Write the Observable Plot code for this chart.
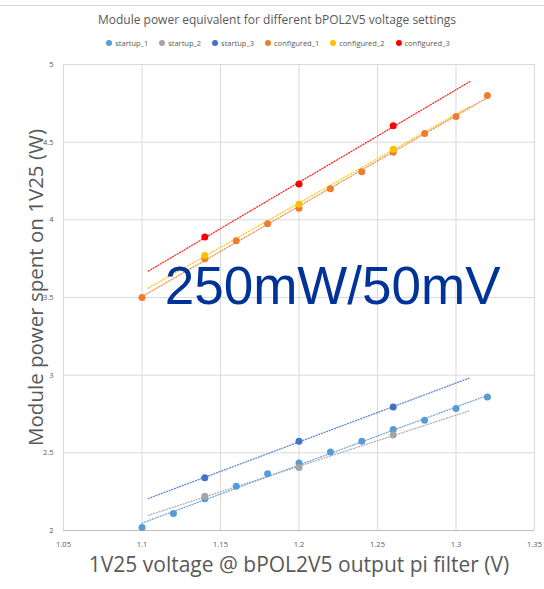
<!DOCTYPE html>
<html>
<head>
<meta charset="utf-8">
<script src="https://cdn.jsdelivr.net/npm/d3@7"></script>
<script src="https://cdn.jsdelivr.net/npm/@observablehq/plot@0.6"></script>
<style>
  html, body { margin: 0; padding: 0; background: #fff; }
  #wrap { width: 544px; height: 589px; position: relative; overflow: hidden; font-family: "Open Sans", "DejaVu Sans", sans-serif; }
  #topline { position: absolute; left: 0; top: 5px; width: 544px; height: 1px; background: #d9d9d9; }
  #title { height: 34px; box-sizing: border-box; padding-top: 11px; text-align: center; font-size: 12px; color: #595959; padding-left: 10px; }
  #legend { height: 18px; display: flex; justify-content: center; align-items: center; gap: 11px; font-size: 7.5px; color: #595959; padding-left: 12px; }
  .li { display: flex; align-items: center; gap: 3px; }
  .sw { width: 6px; height: 6px; border-radius: 50%; display: inline-block; }
  svg { display: block; }
</style>
</head>
<body>
<div id="wrap">
  <div id="topline"></div>
  <div id="title"></div>
  <div id="legend"></div>
  <div id="chart"></div>
</div>
<script>
const chartTitle = "Module power equivalent for different bPOL2V5 voltage settings";
const xLabel = "1V25 voltage @ bPOL2V5 output pi filter (V)";
const yLabel = "Module power spent on 1V25 (W)";
const annotation = "250mW/50mV";

const seriesNames = ["startup_1", "startup_2", "startup_3", "configured_1", "configured_2", "configured_3"];
const seriesColors = ["#5B9BD5", "#A5A5A5", "#4472C4", "#ED7D31", "#FFC000", "#FF0000"];

const xTicks = [1.05, 1.1, 1.15, 1.2, 1.25, 1.3, 1.35];
const yTicks = [2, 2.5, 3, 3.5, 4, 4.5, 5];

// full voltage sweep
const voltStartup1 = [1.10, 1.12, 1.14, 1.16, 1.18, 1.20, 1.22, 1.24, 1.26, 1.28, 1.30, 1.32];
const startup1 = [2.02, 2.11, 2.205, 2.285, 2.365, 2.435, 2.505, 2.575, 2.65, 2.71, 2.785, 2.86];
const voltConfigured1 = [1.10, 1.14, 1.16, 1.18, 1.20, 1.22, 1.24, 1.26, 1.28, 1.30, 1.32];
const configured1 = [3.50, 3.75, 3.865, 3.975, 4.075, 4.20, 4.31, 4.435, 4.555, 4.665, 4.80];

// sparse sweeps
const voltSparse = [1.14, 1.20, 1.26];
const startup2 = [2.22, 2.405, 2.615];
const startup3 = [2.34, 2.575, 2.795];
const configured2 = [3.77, 4.10, 4.455];
const configured3 = [3.89, 4.23, 4.605];

// x-extent of the dotted linear trendlines (as drawn)
const trendSpanFull = [1.10, 1.32];
const trendSpanSparse = [1.104, 1.309];

const seriesX = [voltStartup1, voltSparse, voltSparse, voltConfigured1, voltSparse, voltSparse];
const seriesY = [startup1, startup2, startup3, configured1, configured2, configured3];
const seriesSpan = [trendSpanFull, trendSpanSparse, trendSpanSparse, trendSpanFull, trendSpanSparse, trendSpanSparse];

const points = [];
const trends = [];
seriesNames.forEach((name, i) => {
  const xs = seriesX[i], ys = seriesY[i];
  xs.forEach((x, j) => points.push({series: name, v: x, p: ys[j]}));
  const mx = d3.mean(xs), my = d3.mean(ys);
  const slope = d3.sum(xs, (x, j) => (x - mx) * (ys[j] - my)) / d3.sum(xs, x => (x - mx) ** 2);
  const b = my - slope * mx;
  seriesSpan[i].forEach(x => trends.push({series: name, v: x, p: b + slope * x}));
});

document.getElementById("title").textContent = chartTitle;
const legend = document.getElementById("legend");
seriesNames.forEach((n, i) => {
  const el = document.createElement("span");
  el.className = "li";
  el.innerHTML = `<span class="sw" style="background:${seriesColors[i]}"></span>${n}`;
  legend.appendChild(el);
});

const plot = Plot.plot({
  width: 544,
  height: 537,
  marginTop: 12,
  marginBottom: 59,
  marginLeft: 63,
  marginRight: 10,
  style: {fontFamily: "'Open Sans', 'DejaVu Sans', sans-serif", background: "#fff"},
  x: {domain: [1.05, 1.35]},
  y: {domain: [2, 5]},
  color: {domain: seriesNames, range: seriesColors},
  marks: [
    Plot.gridX(xTicks, {stroke: "#d9d9d9", strokeOpacity: 1, strokeWidth: 1}),
    Plot.gridY(yTicks, {stroke: "#d9d9d9", strokeOpacity: 1, strokeWidth: 1}),
    Plot.ruleY([2], {stroke: "#bfbfbf"}),
    Plot.axisX(xTicks, {tickSize: 0, tickPadding: 11, fontSize: 7.5, color: "#595959", label: null, tickFormat: d => String(d)}),
    Plot.axisY(yTicks, {tickSize: 0, tickPadding: 10, fontSize: 7.5, color: "#595959", label: null, tickFormat: d => String(d)}),
    Plot.line(trends, {x: "v", y: "p", z: "series", stroke: "series", strokeWidth: 1.3, strokeDasharray: "1,1.8", strokeOpacity: 0.85}),
    Plot.dot(points, {x: "v", y: "p", fill: "series", r: 3.5, stroke: null}),
    Plot.text([xLabel], {frameAnchor: "bottom", dy: 41, fontSize: 21, fill: "#595959", text: d => d}),
    Plot.text([yLabel], {frameAnchor: "left", textAnchor: "middle", dx: -27, dy: -10, rotate: -90, fontSize: 20.5, fill: "#595959", text: d => d}),
    Plot.text([annotation], {x: [1.1145], y: [3.5], textAnchor: "start", lineAnchor: "bottom", dy: 6, fontSize: 53, fill: "#003399", fontFamily: "'Liberation Sans', Arial, sans-serif", text: d => d})
  ]
});
document.getElementById("chart").appendChild(plot);
</script>
</body>
</html>
